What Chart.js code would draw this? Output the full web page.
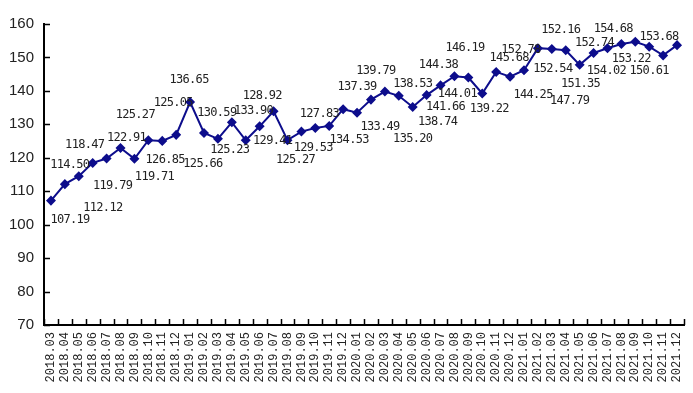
<!DOCTYPE html>
<html>
<head>
<meta charset="utf-8">
<script src="https://cdn.jsdelivr.net/npm/chart.js@4"></script>
<style>
  html, body { margin: 0; padding: 0; background: #fff; }
  #wrap { width: 693px; height: 393px; }
</style>
</head>
<body>
<div id="wrap"><canvas id="lineChart"></canvas></div>
<script>
// months on the x axis
const months = [
  '2018.03', '2018.04', '2018.05', '2018.06', '2018.07', '2018.08', '2018.09', '2018.10', '2018.11', '2018.12',
  '2019.01', '2019.02', '2019.03', '2019.04', '2019.05', '2019.06', '2019.07', '2019.08', '2019.09', '2019.10',
  '2019.11', '2019.12', '2020.01', '2020.02', '2020.03', '2020.04', '2020.05', '2020.06', '2020.07', '2020.08',
  '2020.09', '2020.10', '2020.11', '2020.12', '2021.01', '2021.02', '2021.03', '2021.04', '2021.05', '2021.06',
  '2021.07', '2021.08', '2021.09', '2021.10', '2021.11', '2021.12'
];

// index values
const values = [
  107.19, 112.12, 114.50, 118.47, 119.79, 122.91, 119.71, 125.27, 125.05, 126.85,
  136.65, 127.40, 125.66, 130.59, 125.23, 129.41, 133.90, 125.27, 127.83, 128.92,
  129.53, 134.53, 133.49, 137.39, 139.79, 138.53, 135.20, 138.74, 141.66, 144.38,
  144.01, 139.22, 145.68, 144.25, 146.19, 152.78, 152.54, 152.16, 147.79, 151.35,
  152.74, 154.02, 154.68, 153.22, 150.61, 153.68
];

// which points carry a value label (one is left unlabelled in the original)
const showLabel = values.map((v, i) => i !== 11);

const yTicks = [70, 80, 90, 100, 110, 120, 130, 140, 150, 160];

// where each value label sits relative to its point (dx, dy in px)
const labelOffsets = [
  [19, 19], [38, 24], [-9, -11], [-8, -18], [6, 27], [6, -10], [20, 18], [-13, -25], [11, -38], [-11, 25],
  [-1, -22], [0, 0], [-15, 25], [-15, -9], [-16, 10], [13, 15], [-20, 0], [8, 20], [18, -18], [-53, -32],
  [-16, 22], [6, 31], [23, 14], [-14, -13], [-9, -21], [14, -12], [0, 32], [11, 27], [5, 22], [-16, -11],
  [-11, 16], [7, 15], [13, -14], [23, 18], [-59, -22], [-17, 2], [1, 20], [-5, -20], [-10, 36], [-13, 31],
  [-13, -5], [-15, 27], [-22, -13], [-18, 12], [-14, 15], [-18, -8]
];

const lineColor = '#0d0d8c';
const labelFont = '12px "DejaVu Sans Mono", "Liberation Mono", monospace';

// small ticks pointing into the plot, like the original
const innerTicks = {
  id: 'innerTicks',
  afterDraw(chart) {
    const ctx = chart.ctx;
    const x = chart.scales.x, y = chart.scales.y;
    ctx.save();
    ctx.strokeStyle = '#000';
    ctx.lineWidth = 1.5;
    ctx.beginPath();
    yTicks.forEach(t => {
      const py = Math.round(y.getPixelForValue(t)) + 0.5;
      ctx.moveTo(x.left, py);
      ctx.lineTo(x.left + 6, py);
    });
    const step = x.width / months.length;
    for (let i = 0; i <= months.length; i++) {
      const px = Math.round(x.left + i * step) + 0.5;
      ctx.moveTo(px, y.bottom);
      ctx.lineTo(px, y.bottom - 6);
    }
    ctx.stroke();
    ctx.restore();
  }
};

// value labels drawn next to the points
const valueLabels = {
  id: 'valueLabels',
  afterDatasetsDraw(chart) {
    const ctx = chart.ctx;
    const meta = chart.getDatasetMeta(0);
    ctx.save();
    ctx.font = labelFont;
    ctx.letterSpacing = '-0.7px';
    ctx.fillStyle = '#222';
    ctx.textAlign = 'center';
    ctx.textBaseline = 'middle';
    meta.data.forEach((pt, i) => {
      if (!showLabel[i]) return;
      const off = labelOffsets[i];
      ctx.fillText(values[i].toFixed(2), pt.x + off[0], pt.y + off[1]);
    });
    ctx.restore();
  }
};

const ctx = document.getElementById('lineChart').getContext('2d');
new Chart(ctx, {
  type: 'line',
  data: {
    labels: months,
    datasets: [{
      data: values,
      borderColor: lineColor,
      backgroundColor: lineColor,
      borderWidth: 2,
      tension: 0,
      pointStyle: 'rectRot',
      pointRadius: 3.6,
      pointHoverRadius: 3.6,
      fill: false
    }]
  },
  options: {
    responsive: true,
    maintainAspectRatio: false,
    animation: false,
    layout: { padding: { top: 24, right: 9, left: 0, bottom: 0 } },
    plugins: {
      legend: { display: false },
      tooltip: { enabled: false }
    },
    scales: {
      x: {
        offset: true,
        grid: { display: false, drawTicks: false },
        border: { display: true, color: '#000', width: 2 },
        ticks: {
          autoSkip: false,
          maxRotation: 90,
          minRotation: 90,
          padding: 7,
          color: '#222',
          font: { family: '"Liberation Mono", "DejaVu Sans Mono", monospace', size: 12 }
        },
        afterFit: s => { s.height = 68; s.paddingLeft = 0; s.paddingRight = 0; }
      },
      y: {
        min: 70,
        max: 160,
        afterBuildTicks: s => { s.ticks = yTicks.map(v => ({ value: v })); },
        grid: { display: false, drawTicks: false },
        border: { display: true, color: '#000', width: 2 },
        ticks: {
          padding: 10,
          color: '#222',
          font: { family: '"Liberation Sans", Arial, sans-serif', size: 15 }
        },
        afterFit: s => { s.width = 44; }
      }
    }
  },
  plugins: [innerTicks, valueLabels]
});
</script>
</body>
</html>
